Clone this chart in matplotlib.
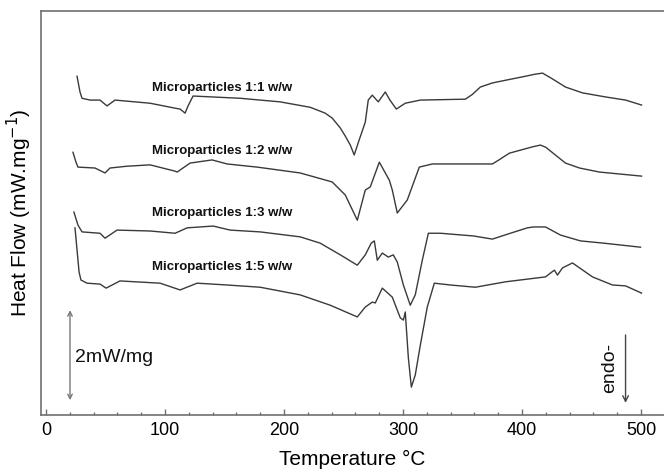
import matplotlib
matplotlib.use("Agg")
import matplotlib.pyplot as plt
from matplotlib.ticker import MultipleLocator

plt.rcParams['font.family'] = ['Liberation Sans', 'DejaVu Sans']

# DSC curves, temperature (°C) and heat flow (mW/mg, stacked with offsets)
t_11 = [26.1, 28.6, 30.3, 37.0, 45.4, 51.3, 58.0, 87.5, 108.5, 112.7, 116.9, 119.4, 123.6,
        163.2, 196.8, 222.0, 234.6, 240.5, 247.3, 251.5, 255.7, 259.0, 263.0, 268.3, 270.8,
        274.2, 279.2, 285.1, 289.0, 294.4, 301.9, 314.6, 352.4, 358.0, 365.0, 375.0, 386.0,
        402.9, 410.0, 417.2, 425.0, 436.5, 450.8, 470.1, 487.0, 500.4]
hf_11 = [7.53, 7.18, 7.04, 7.0, 7.0, 6.87, 7.0, 6.93, 6.82, 6.80, 6.71, 6.87, 7.09,
         7.04, 6.96, 6.84, 6.71, 6.60, 6.38, 6.20, 6.0, 5.78, 6.10, 6.51, 7.0,
         7.11, 6.96, 7.18, 7.0, 6.80, 6.93, 7.0, 7.02, 7.12, 7.29, 7.38, 7.44,
         7.53, 7.57, 7.6, 7.48, 7.29, 7.16, 7.07, 7.0, 6.89]

t_12 = [22.7, 25.2, 26.9, 41.2, 49.6, 53.8, 68.1, 87.5, 108.5, 110.2, 121.1, 139.6, 152.2,
        177.5, 213.6, 240.5, 251.5, 261.6, 268.3, 272.5, 280.1, 288.5, 291.0, 295.2, 303.6,
        313.7, 324.6, 375.1, 380.0, 389.4, 408.7, 415.5, 420.0, 436.5, 448.3, 465.1, 500.4]
hf_12 = [5.84, 5.62, 5.51, 5.49, 5.38, 5.49, 5.53, 5.56, 5.42, 5.40, 5.60, 5.67, 5.58,
         5.51, 5.38, 5.18, 4.89, 4.33, 5.0, 5.07, 5.62, 5.22, 5.0, 4.49, 4.78,
         5.51, 5.58, 5.58, 5.66, 5.82, 5.96, 6.0, 5.95, 5.6, 5.49, 5.40, 5.31]

t_13 = [23.5, 26.9, 30.3, 45.4, 49.6, 59.7, 87.5, 108.5, 118.6, 140.5, 154.8, 180.0, 213.6,
        230.4, 247.3, 261.6, 268.3, 273.3, 275.9, 278.4, 282.6, 287.6, 291.8, 295.2, 300.3,
        306.1, 310.3, 316.2, 321.3, 331.4, 359.1, 375.1, 390.2, 404.5, 409.6, 419.7, 432.3,
        449.1, 468.5, 499.6]
hf_13 = [4.51, 4.22, 4.07, 4.04, 3.93, 4.11, 4.09, 4.04, 4.16, 4.2, 4.11, 4.07, 3.96,
         3.82, 3.56, 3.33, 3.56, 3.82, 3.87, 3.44, 3.6, 3.51, 3.56, 3.40, 2.89,
         2.44, 2.67, 3.44, 4.04, 4.04, 3.98, 3.91, 4.04, 4.16, 4.18, 4.18, 4.0,
         3.87, 3.82, 3.73]

t_15 = [24.4, 26.1, 27.8, 29.4, 34.5, 45.4, 50.5, 62.2, 95.9, 112.7, 127.0, 152.2, 180.0,
        213.6, 238.9, 261.6, 268.3, 274.2, 276.7, 282.6, 291.0, 297.7, 300.3, 301.9, 304.5,
        307.0, 310.3, 314.6, 320.4, 326.3, 339.8, 360.8, 386.0, 419.7, 427.2, 429.8, 434.0,
        442.4, 459.2, 476.0, 487.0, 500.4]
hf_15 = [4.16, 3.67, 3.18, 3.0, 2.93, 2.91, 2.82, 2.98, 2.93, 2.78, 2.93, 2.89, 2.84,
         2.67, 2.44, 2.18, 2.4, 2.51, 2.49, 2.82, 2.62, 2.16, 2.11, 2.29, 1.27,
         0.62, 0.89, 1.56, 2.4, 2.93, 2.89, 2.84, 2.96, 3.07, 3.22, 3.11, 3.27,
         3.38, 3.07, 2.89, 2.87, 2.71]

labels = ["Microparticles 1:1 w/w", "Microparticles 1:2 w/w",
          "Microparticles 1:3 w/w", "Microparticles 1:5 w/w"]
label_y = [7.27, 5.87, 4.49, 3.29]
LABEL_X = 89.0

LINE_COLOR = "#3a3a3a"
SPINE_COLOR = "#707070"

fig = plt.figure(figsize=(6.64, 4.70), dpi=100)
ax = fig.add_axes([0.0617, 0.117, 0.9383, 0.8596])

for t, hf in [(t_11, hf_11), (t_12, hf_12), (t_13, hf_13), (t_15, hf_15)]:
    ax.plot(t, hf, color=LINE_COLOR, lw=1.0)

for lab, yy in zip(labels, label_y):
    ax.text(LABEL_X, yy, lab, fontsize=9.5, fontweight='bold', color='#111111',
            va='center', ha='left')

# scale bar and endo direction
ax.annotate('', xy=(20.2, 2.33), xytext=(20.2, 0.33),
            arrowprops=dict(arrowstyle='<->', color='#777777', lw=1.0,
                            shrinkA=0, shrinkB=0, mutation_scale=8))
ax.text(24.4, 1.27, "2mW/mg", fontsize=14, va='center', ha='left', color='#111111')
ax.annotate('', xy=(487.0, 0.27), xytext=(487.0, 1.78),
            arrowprops=dict(arrowstyle='->', color='#444444', lw=1.0,
                            shrinkA=0, shrinkB=0, mutation_scale=10))
ax.text(473.5, 1.04, "endo-", fontsize=14, rotation=90, va='center', ha='center',
        color='#111111')

ax.set_xlim(-4.2, 519.3)
ax.set_ylim(0, 8.98)
ax.xaxis.set_major_locator(MultipleLocator(100))
ax.xaxis.set_minor_locator(MultipleLocator(20))
ax.tick_params(axis='x', which='major', direction='in', length=4, width=1,
               color=SPINE_COLOR, labelsize=13, pad=5)
ax.tick_params(axis='x', which='minor', direction='in', length=2.5, width=1,
               color=SPINE_COLOR)
ax.set_yticks([])

for side in ['left', 'bottom', 'top']:
    ax.spines[side].set_color(SPINE_COLOR)
    ax.spines[side].set_linewidth(1.2)
ax.spines['right'].set_visible(False)

ax.set_xlabel("Temperature °C", fontsize=15, labelpad=8)
ax.set_ylabel("Heat Flow (mW.mg$^{-1}$)", fontsize=15, labelpad=5)

fig.savefig("out.png", dpi=100)
